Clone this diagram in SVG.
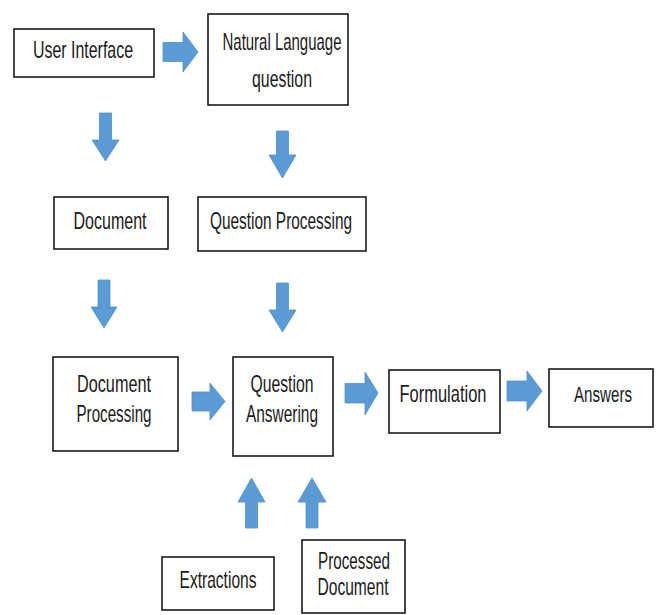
<svg xmlns="http://www.w3.org/2000/svg" width="656" height="615" viewBox="0 0 656 615">
<style>
.box{fill:#fff;stroke:#1a1a1a;stroke-width:1.6}
.t{font-family:"Liberation Sans",Arial,sans-serif;font-size:24px;fill:#1a1a1a;text-anchor:middle}
.ar{fill:#5b9bd5;stroke:#4f8fcc;stroke-width:0.8}
</style>
<rect width="656" height="615" fill="#fff"/>
<g id="connectors">
<path class="ar" d="M163,42.5 H183 V32 L198,52 L183,72 V61.5 H163 Z"/>
<path class="ar" d="M99.5,113 H111.5 V140 H119 L105.5,161 L92,140 H99.5 Z"/>
<path class="ar" d="M276.5,131 H288.5 V155 H296 L282.5,178 L269,155 H276.5 Z"/>
<path class="ar" d="M98,280 H110 V307 H117 L104,328 L91,307 H98 Z"/>
<path class="ar" d="M276.5,283 H288.5 V310 H296 L282.5,332 L269,310 H276.5 Z"/>
<path class="ar" d="M192,392 H210 V383 L225,401.5 L210,420 V411 H192 Z"/>
<path class="ar" d="M345,383.5 H365 V372 L378,393 L365,415 V403 H345 Z"/>
<path class="ar" d="M507,381 H527 V371 L542,391 L527,411 V401 H507 Z"/>
<path class="ar" d="M245.5,528 H257.5 V502 H265 L251.5,478 L238,502 H245.5 Z"/>
<path class="ar" d="M306,528 H318 V502 H326 L312,478 L298,502 H306 Z"/>
</g>
<g id="user-interface"><rect class="box" x="14" y="29" width="140" height="48"/><text class="t" x="83" y="58" textLength="100" lengthAdjust="spacingAndGlyphs">User Interface</text></g>
<g id="natural-language-question"><rect class="box" x="208" y="14" width="140" height="91"/><text class="t" x="282" y="50" textLength="119" lengthAdjust="spacingAndGlyphs">Natural Language</text><text class="t" x="282" y="87" textLength="60" lengthAdjust="spacingAndGlyphs">question</text></g>
<g id="document"><rect class="box" x="54" y="197" width="114" height="52"/><text class="t" x="110" y="229" textLength="73" lengthAdjust="spacingAndGlyphs">Document</text></g>
<g id="question-processing"><rect class="box" x="198" y="197" width="168" height="54"/><text class="t" x="281" y="229" textLength="142" lengthAdjust="spacingAndGlyphs">Question Processing</text></g>
<g id="document-processing"><rect class="box" x="53" y="357" width="125" height="94"/><text class="t" x="114" y="392" textLength="74" lengthAdjust="spacingAndGlyphs">Document</text><text class="t" x="114" y="422" textLength="75" lengthAdjust="spacingAndGlyphs">Processing</text></g>
<g id="question-answering"><rect class="box" x="233" y="357" width="100" height="99"/><text class="t" x="282" y="392" textLength="63" lengthAdjust="spacingAndGlyphs">Question</text><text class="t" x="282" y="422" textLength="72" lengthAdjust="spacingAndGlyphs">Answering</text></g>
<g id="formulation"><rect class="box" x="389" y="370" width="111" height="63"/><text class="t" x="443" y="402" textLength="87" lengthAdjust="spacingAndGlyphs">Formulation</text></g>
<g id="answers"><rect class="box" x="549" y="369" width="104" height="58"/><text class="t" x="603" y="402" style="font-size:22px" textLength="58" lengthAdjust="spacingAndGlyphs">Answers</text></g>
<g id="extractions"><rect class="box" x="162" y="557" width="112" height="53"/><text class="t" x="218" y="588" textLength="77" lengthAdjust="spacingAndGlyphs">Extractions</text></g>
<g id="processed-document"><rect class="box" x="302" y="540" width="103" height="73"/><text class="t" x="354" y="569" textLength="72" lengthAdjust="spacingAndGlyphs">Processed</text><text class="t" x="353" y="595" textLength="71" lengthAdjust="spacingAndGlyphs">Document</text></g>
</svg>
